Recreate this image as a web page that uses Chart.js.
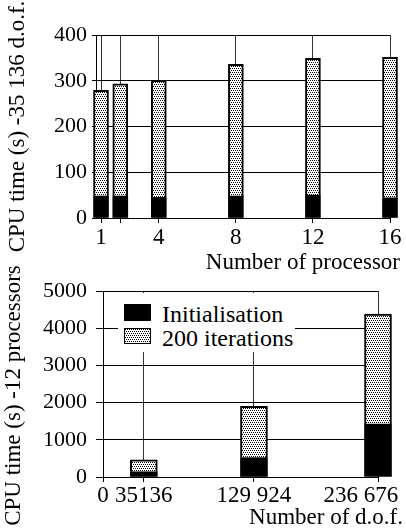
<!DOCTYPE html>
<html>
<head>
<meta charset="utf-8">
<script src="https://cdn.jsdelivr.net/npm/chart.js@4.4.1/dist/chart.umd.min.js"></script>
<style>
  body { margin: 0; background: #fff; }
  #page { position: relative; width: 406px; height: 529px; overflow: hidden; font-family: 'Liberation Serif', serif; }
  #c1 { position: absolute; left: 0; top: 0; }
  #c2 { position: absolute; left: 0; top: 250px; }
  #legend { position: absolute; left: 118px; top: 293px; width: 177px; height: 59px; background: #fff; }
  .sw { position: absolute; left: 6px; width: 27px; box-sizing: border-box; }
  .lbl { position: absolute; left: 44px; font-size: 24px; line-height: 24px; color: #000; white-space: nowrap; }
</style>
</head>
<body>
<div id="page">
  <canvas id="c1" width="406" height="275"></canvas>
  <canvas id="c2" width="406" height="279"></canvas>
  <div id="legend">
    <span class="sw" id="sw1" style="top:11px;height:17px;background:#000;"></span>
    <span class="lbl" style="top:9px;">Initialisation</span>
    <span class="sw" id="sw2" style="top:35px;height:16px;border:1px solid #000;"></span>
    <span class="lbl" style="top:33px;">200 iterations</span>
  </div>
</div>
<script>
// données : temps CPU par nombre de processeurs (35 136 d.o.f.)
const processors = [1, 2, 4, 8, 12, 16];
const procTicks = [1, 2, 4, 8, 12, 16];
const procTickLabels = ['1', '', '4', '8', '12', '16'];
const initTop = [48, 48, 45, 48, 50, 44];
const iterTop = [231, 245, 256, 288, 299, 307];

// données : temps CPU par nombre de d.o.f. (12 processeurs)
const dof = [35136, 129924, 236676];
const dofTicks = [0, 35136, 129924, 236676];
const dofTickLabels = ['0', '35136', '129 924', '236 676\u2002\u2002\u2002'];
const initBottom = [140, 520, 1420];
const iterBottom = [320, 1380, 2960];

const FONT = 'Liberation Serif';

// motif pointillé pour les itérations
function makeDots() {
    const c = document.createElement('canvas');
    c.width = 4; c.height = 4;
    const g = c.getContext('2d');
    g.fillStyle = '#fff';
    g.fillRect(0, 0, 4, 4);
    g.fillStyle = '#000';
    [[0, 0], [2, 0], [1, 2], [3, 2]].forEach(p => g.fillRect(p[0], p[1], 1, 1));
    return c;
}
const dotCanvas = makeDots();
const dots = dotCanvas.getContext('2d').createPattern(dotCanvas, 'repeat');
document.getElementById('sw2').style.backgroundImage = 'url(' + dotCanvas.toDataURL() + ')';

function points(xs, ys) {
    return xs.map((x, i) => ({ x: x, y: ys[i] }));
}

function spacer(w) {
    return {
        type: 'linear', position: 'right', display: true,
        grid: { display: false }, ticks: { display: false }, border: { display: false },
        afterFit: s => { s.width = w; }
    };
}

// graphique du haut
new Chart(document.getElementById('c1'), {
    type: 'bar',
    data: {
        datasets: [{
            label: 'Initialisation',
            data: points(processors, initTop),
            backgroundColor: '#000',
            borderWidth: 0,
            barThickness: 15,
            clip: false
        }, {
            label: '200 iterations',
            data: points(processors, iterTop),
            backgroundColor: dots,
            borderColor: '#000',
            borderWidth: 2,
            barThickness: 15,
            clip: false
        }]
    },
    options: {
        responsive: false,
        animation: false,
        layout: { padding: { left: 0, right: 6, top: 35, bottom: 0 } },
        plugins: {
            legend: { display: false },
            tooltip: { enabled: false },
            title: {
                display: true, text: 'Number of processor', position: 'bottom', align: 'end',
                color: '#000', font: { family: FONT, size: 23, weight: 'normal', lineHeight: 1 },
                padding: { top: 0, bottom: 1 }
            }
        },
        scales: {
            x: {
                type: 'linear', stacked: true, min: 0.74, max: 16, offset: false,
                afterBuildTicks: s => { s.ticks = procTicks.map(v => ({ value: v })); },
                afterFit: s => { s.height = 33; s.paddingLeft = 0; s.paddingRight = 0; },
                ticks: {
                    color: '#000', font: { family: FONT, size: 23 }, padding: 1, maxRotation: 0,
                    autoSkip: false,
                    callback: v => procTickLabels[procTicks.indexOf(v)]
                },
                grid: { offset: false, color: '#333', tickColor: '#000', tickLength: 5 },
                border: { color: '#000' }
            },
            y: {
                stacked: true, min: 0, max: 400,
                afterFit: s => { s.width = 96; },
                ticks: {
                    stepSize: 50, color: '#000', font: { family: FONT, size: 22 }, padding: 5,
                    callback: v => (v % 100 === 0 ? v : '')
                },
                grid: { color: '#000', tickColor: '#000', tickLength: 4 },
                border: { color: '#000' },
                title: {
                    display: true, text: 'CPU time (s) -35 136 d.o.f.', color: '#000',
                    font: { family: FONT, size: 23, lineHeight: 1 }, padding: { top: 6, bottom: 0 }
                }
            },
            r: spacer(10)
        }
    }
});

// graphique du bas
new Chart(document.getElementById('c2'), {
    type: 'bar',
    data: {
        datasets: [{
            label: 'Initialisation',
            data: points(dof, initBottom),
            backgroundColor: '#000',
            borderWidth: 0,
            barThickness: 27,
            clip: false
        }, {
            label: '200 iterations',
            data: points(dof, iterBottom),
            backgroundColor: dots,
            borderColor: '#000',
            borderWidth: 2,
            barThickness: 27,
            clip: false
        }]
    },
    options: {
        responsive: false,
        animation: false,
        layout: { padding: { left: 0, right: 3, top: 41, bottom: 0 } },
        plugins: {
            legend: { display: false },
            tooltip: { enabled: false },
            title: {
                display: true, text: 'Number of d.o.f.', position: 'bottom', align: 'end',
                color: '#000', font: { family: FONT, size: 23, weight: 'normal', lineHeight: 1 },
                padding: { top: 0, bottom: 0 }
            }
        },
        scales: {
            x: {
                type: 'linear', stacked: true, min: 0, max: 236676, offset: false,
                afterBuildTicks: s => { s.ticks = dofTicks.map(v => ({ value: v })); },
                afterFit: s => { s.height = 29; s.paddingLeft = 0; s.paddingRight = 0; },
                ticks: {
                    color: '#000', font: { family: FONT, size: 23 }, padding: 0, maxRotation: 0,
                    autoSkip: false,
                    callback: v => dofTickLabels[dofTicks.indexOf(v)]
                },
                grid: { offset: false, color: '#333', tickColor: '#000', tickLength: 5 },
                border: { color: '#000' }
            },
            y: {
                stacked: true, min: 0, max: 5000,
                afterFit: s => { s.width = 103; },
                ticks: {
                    stepSize: 500, color: '#000', font: { family: FONT, size: 22 }, padding: 9,
                    callback: v => (v % 1000 === 0 ? v : '')
                },
                grid: {
                    color: c => (c.tick && c.tick.value % 1000 === 0 ? '#000' : 'rgba(0,0,0,0)'),
                    tickColor: '#000', tickLength: 7
                },
                border: { color: '#000' },
                title: {
                    display: true, text: 'CPU time (s) -12 processors\u2002\u2002', color: '#000',
                    font: { family: FONT, size: 23, lineHeight: 1 }, padding: { top: 2, bottom: 0 }
                }
            },
            r: spacer(25)
        }
    }
});
</script>
</body>
</html>
